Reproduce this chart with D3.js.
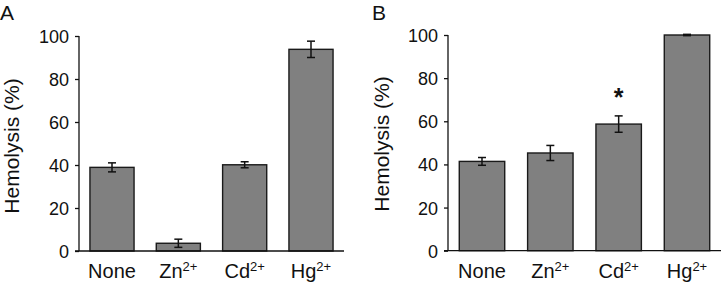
<!DOCTYPE html>
<html>
<head>
<meta charset="utf-8">
<script src="https://cdn.jsdelivr.net/npm/d3@7"></script>
<style>
  body { margin: 0; background: #fff; }
  text { font-family: "Liberation Sans", Arial, sans-serif; fill: #111; }
</style>
</head>
<body>
<div id="chart"></div>
<script>
// Data
var categories = ["None", "Zn", "Cd", "Hg"]
var charges = ["", "2+", "2+", "2+"]
var valuesA = [38.9, 3.6, 40.1, 93.8]
var errorsA = [2.1, 1.9, 1.4, 3.8]
var valuesB = [41.4, 45.3, 58.7, 100]
var errorsB = [1.8, 3.5, 3.8, 0.3]
var starsB = ["", "", "*", ""]
var yTicks = [0, 20, 40, 60, 80, 100]

var svg = d3.select("#chart").append("svg")
    .attr("width", 722)
    .attr("height", 285)

function drawPanel(opts) {
    var g = svg.append("g")

    var xScale = d3.scaleBand().domain(categories)
        .range([opts.left, opts.right])
        .paddingInner(0.335).paddingOuter(0.165)
    var yScale = d3.scaleLinear().domain([0, 100]).range([opts.bottom, opts.top])

    // bars
    g.selectAll("rect.bar")
        .data(opts.values)
        .enter()
        .append("rect")
        .attr("class", "bar")
        .attr("x", (d, i) => xScale(categories[i]))
        .attr("y", d => yScale(d))
        .attr("width", xScale.bandwidth())
        .attr("height", d => yScale(0) - yScale(d))
        .style("fill", "#808080")
        .style("stroke", "#1a1a1a")
        .style("stroke-width", 1.4)

    // error bars
    var cap = 4
    opts.values.forEach((v, i) => {
        var cx = xScale(categories[i]) + xScale.bandwidth() / 2
        var e = opts.errors[i]
        var y1 = yScale(v + e), y2 = yScale(v - e)
        g.append("line").attr("x1", cx).attr("x2", cx).attr("y1", y1).attr("y2", y2)
            .style("stroke", "#111").style("stroke-width", 1.5)
        g.append("line").attr("x1", cx - cap).attr("x2", cx + cap).attr("y1", y1).attr("y2", y1)
            .style("stroke", "#111").style("stroke-width", 1.5)
        g.append("line").attr("x1", cx - cap).attr("x2", cx + cap).attr("y1", y2).attr("y2", y2)
            .style("stroke", "#111").style("stroke-width", 1.5)
        if (opts.stars && opts.stars[i]) {
            g.append("text")
                .attr("x", cx)
                .attr("y", y1 - 10)
                .attr("text-anchor", "middle")
                .style("font-size", "25px")
                .style("font-weight", "bold")
                .text(opts.stars[i])
        }
    })

    // y axis
    var yAxis = g.append("g")
        .attr("transform", "translate(" + opts.left + ",0)")
        .call(d3.axisLeft(yScale).tickValues(yTicks).tickSize(4).tickPadding(6))
    yAxis.select(".domain").attr("d", "M0," + opts.top + "V" + opts.bottom)
        .style("stroke", "#111").style("stroke-width", 1.3)
    yAxis.selectAll(".tick line").style("stroke", "#111").style("stroke-width", 1.3)
    yAxis.selectAll(".tick text")
        .style("font-size", "18px")
        .style("font-family", "'Liberation Sans', Arial, sans-serif")
        .attr("fill", "#111")
        .attr("dy", "0.36em")

    // x axis line
    g.append("line")
        .attr("x1", opts.left - 4).attr("x2", opts.right)
        .attr("y1", opts.bottom).attr("y2", opts.bottom)
        .style("stroke", "#111").style("stroke-width", 1.3)

    // x labels
    categories.forEach((c, i) => {
        var t = g.append("text")
            .attr("x", xScale(c) + xScale.bandwidth() / 2)
            .attr("y", opts.bottom + 27)
            .attr("text-anchor", "middle")
            .style("font-size", "20px")
        t.append("tspan").text(c)
        if (charges[i]) {
            t.append("tspan").attr("dy", -7).style("font-size", "13px").text(charges[i])
        }
    })

    // y title
    g.append("text")
        .attr("transform", "translate(" + opts.titleX + "," + opts.titleY + ") rotate(-90)")
        .attr("text-anchor", "middle")
        .style("font-size", "21px")
        .text("Hemolysis (%)")

    // panel letter
    g.append("text")
        .attr("x", opts.letterX)
        .attr("y", 20)
        .style("font-size", "21px")
        .text(opts.letter)
}

drawPanel({letter: "A", letterX: 0, values: valuesA, errors: errorsA,
    left: 79, right: 344, top: 36, bottom: 251, titleX: 18.5, titleY: 146})
drawPanel({letter: "B", letterX: 372, values: valuesB, errors: errorsB, stars: starsB,
    left: 448, right: 721, top: 35, bottom: 250.7, titleX: 388.5, titleY: 144})
</script>
</body>
</html>
